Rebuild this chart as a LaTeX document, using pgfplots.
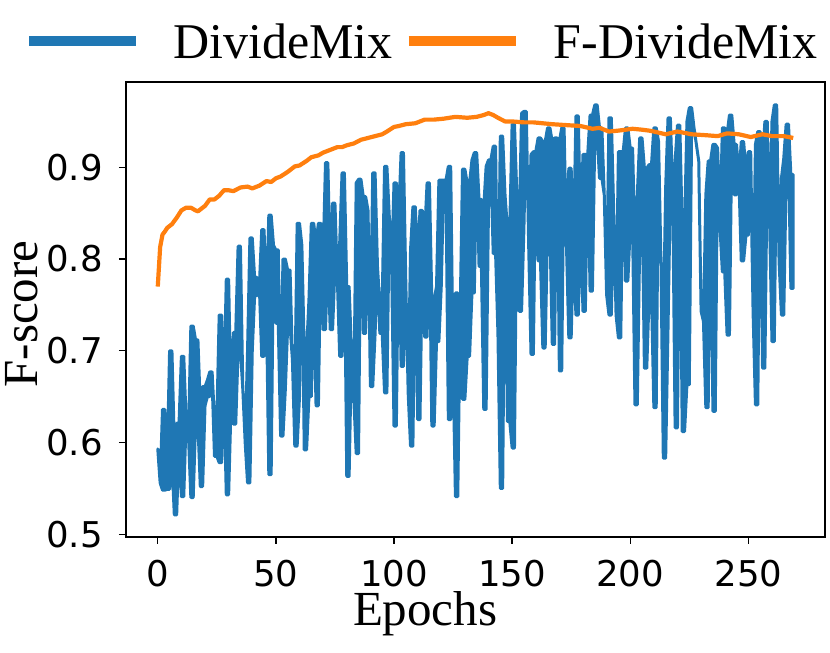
\documentclass[border=0pt]{standalone}
\usepackage{pgfplots}
\usepackage{pgfplotstable}
\pgfplotsset{compat=1.18}
\usepgfplotslibrary{fillbetween}
\usepackage{fontspec}
\setmainfont{Liberation Serif}
\newfontfamily\dejavu{DejaVu Sans}
\definecolor{mblue}{HTML}{1F77B4}
\definecolor{morange}{HTML}{FF7F0E}
% DivideMix: upper edge of the blue band
\pgfplotstableread{
e v
0 0.593
1 0.556
2 0.636
3 0.636
4 0.580
5 0.700
6 0.700
7 0.600
8 0.621
9 0.621
10 0.694
11 0.694
12 0.625
13 0.607
14 0.727
15 0.727
16 0.712
17 0.712
18 0.640
19 0.661
20 0.661
21 0.668
22 0.677
23 0.677
24 0.625
25 0.625
26 0.739
27 0.739
28 0.658
29 0.778
30 0.778
31 0.640
32 0.720
33 0.720
34 0.814
35 0.814
36 0.658
37 0.600
38 0.700
39 0.823
40 0.823
41 0.780
42 0.780
43 0.770
44 0.832
45 0.832
46 0.748
47 0.848
48 0.848
49 0.815
50 0.810
51 0.810
52 0.658
53 0.800
54 0.800
55 0.788
56 0.788
57 0.690
58 0.650
59 0.839
60 0.839
61 0.815
62 0.700
63 0.700
64 0.756
65 0.839
66 0.839
67 0.818
68 0.839
69 0.839
70 0.803
71 0.905
72 0.905
73 0.790
74 0.861
75 0.861
76 0.780
77 0.817
78 0.894
79 0.894
80 0.770
81 0.770
82 0.700
83 0.647
84 0.883
85 0.887
86 0.887
87 0.868
88 0.868
89 0.853
90 0.719
91 0.894
92 0.894
93 0.792
94 0.750
95 0.750
96 0.901
97 0.901
98 0.847
99 0.792
100 0.883
101 0.883
102 0.847
103 0.916
104 0.916
105 0.774
106 0.654
107 0.810
108 0.857
109 0.857
110 0.800
111 0.853
112 0.853
113 0.828
114 0.883
115 0.883
116 0.756
117 0.756
118 0.770
119 0.886
120 0.886
121 0.886
122 0.886
123 0.901
124 0.901
125 0.683
126 0.763
127 0.763
128 0.740
129 0.898
130 0.898
131 0.883
132 0.883
133 0.908
134 0.916
135 0.916
136 0.865
137 0.865
138 0.857
139 0.901
140 0.908
141 0.908
142 0.923
143 0.923
144 0.719
145 0.934
146 0.934
147 0.870
148 0.834
149 0.834
150 0.947
151 0.947
152 0.870
153 0.834
154 0.959
155 0.961
156 0.961
157 0.816
158 0.914
159 0.917
160 0.917
161 0.932
162 0.932
163 0.928
164 0.928
165 0.943
166 0.943
167 0.928
168 0.932
169 0.932
170 0.928
171 0.943
172 0.943
173 0.816
174 0.899
175 0.899
176 0.816
177 0.956
178 0.956
179 0.834
180 0.914
181 0.914
182 0.914
183 0.957
184 0.957
185 0.968
186 0.968
187 0.943
188 0.943
189 0.870
190 0.761
191 0.954
192 0.954
193 0.852
194 0.739
195 0.917
196 0.917
197 0.917
198 0.943
199 0.943
200 0.921
201 0.921
202 0.816
203 0.870
204 0.932
205 0.932
206 0.899
207 0.899
208 0.903
209 0.903
210 0.943
211 0.943
212 0.928
213 0.798
214 0.725
215 0.878
216 0.954
217 0.954
218 0.870
219 0.907
220 0.946
221 0.946
222 0.834
223 0.834
224 0.950
225 0.965
226 0.965
227 0.943
228 0.925
229 0.907
230 0.743
231 0.732
232 0.870
233 0.907
234 0.907
235 0.925
236 0.925
237 0.921
238 0.834
239 0.943
240 0.943
241 0.936
242 0.957
243 0.957
244 0.925
245 0.925
246 0.888
247 0.928
248 0.928
249 0.896
250 0.917
251 0.917
252 0.743
253 0.925
254 0.939
255 0.939
256 0.907
257 0.950
258 0.950
259 0.841
260 0.950
261 0.968
262 0.968
263 0.798
264 0.888
265 0.910
266 0.947
267 0.947
268 0.892
269 0.892
}\dmhi
% DivideMix: lower edge of the blue band
\pgfplotstableread{
e v
0 0.593
1 0.556
2 0.548
3 0.548
4 0.549
5 0.549
6 0.580
7 0.521
8 0.521
9 0.600
10 0.541
11 0.541
12 0.625
13 0.607
14 0.540
15 0.540
16 0.620
17 0.620
18 0.552
19 0.552
20 0.640
21 0.650
22 0.650
23 0.668
24 0.585
25 0.585
26 0.578
27 0.578
28 0.658
29 0.543
30 0.543
31 0.640
32 0.620
33 0.620
34 0.700
35 0.700
36 0.658
37 0.600
38 0.556
39 0.556
40 0.700
41 0.760
42 0.760
43 0.770
44 0.694
45 0.694
46 0.748
47 0.565
48 0.565
49 0.815
50 0.730
51 0.730
52 0.607
53 0.607
54 0.658
55 0.727
56 0.727
57 0.690
58 0.596
59 0.596
60 0.650
61 0.815
62 0.592
63 0.592
64 0.650
65 0.650
66 0.756
67 0.640
68 0.640
69 0.818
70 0.723
71 0.723
72 0.803
73 0.723
74 0.723
75 0.790
76 0.780
77 0.694
78 0.694
79 0.817
80 0.563
81 0.563
82 0.700
83 0.647
84 0.588
85 0.588
86 0.883
87 0.719
88 0.719
89 0.853
90 0.661
91 0.661
92 0.719
93 0.792
94 0.719
95 0.719
96 0.654
97 0.654
98 0.847
99 0.792
100 0.618
101 0.618
102 0.847
103 0.683
104 0.683
105 0.774
106 0.654
107 0.596
108 0.596
109 0.810
110 0.625
111 0.625
112 0.800
113 0.715
114 0.715
115 0.828
116 0.618
117 0.618
118 0.710
119 0.710
120 0.770
121 0.879
122 0.879
123 0.625
124 0.625
125 0.683
126 0.541
127 0.541
128 0.740
129 0.647
130 0.647
131 0.694
132 0.694
133 0.763
134 0.763
135 0.908
136 0.792
137 0.792
138 0.636
139 0.636
140 0.857
141 0.901
142 0.806
143 0.806
144 0.719
145 0.550
146 0.550
147 0.870
148 0.623
149 0.623
150 0.594
151 0.594
152 0.870
153 0.743
154 0.743
155 0.834
156 0.959
157 0.816
158 0.696
159 0.696
160 0.914
161 0.798
162 0.798
163 0.703
164 0.703
165 0.834
166 0.834
167 0.707
168 0.707
169 0.928
170 0.678
171 0.678
172 0.928
173 0.816
174 0.714
175 0.714
176 0.816
177 0.739
178 0.739
179 0.834
180 0.743
181 0.743
182 0.914
183 0.765
184 0.765
185 0.935
186 0.935
187 0.888
188 0.888
189 0.870
190 0.761
191 0.739
192 0.739
193 0.852
194 0.739
195 0.714
196 0.714
197 0.917
198 0.776
199 0.776
200 0.834
201 0.834
202 0.641
203 0.641
204 0.816
205 0.870
206 0.681
207 0.681
208 0.761
209 0.761
210 0.638
211 0.638
212 0.928
213 0.798
214 0.583
215 0.583
216 0.725
217 0.878
218 0.870
219 0.616
220 0.616
221 0.907
222 0.612
223 0.612
224 0.663
225 0.663
226 0.950
227 0.943
228 0.925
229 0.907
230 0.743
231 0.732
232 0.638
233 0.638
234 0.870
235 0.634
236 0.634
237 0.921
238 0.834
239 0.786
240 0.786
241 0.717
242 0.717
243 0.936
244 0.870
245 0.870
246 0.888
247 0.798
248 0.798
249 0.826
250 0.826
251 0.896
252 0.743
253 0.641
254 0.641
255 0.925
256 0.681
257 0.681
258 0.907
259 0.841
260 0.710
261 0.710
262 0.950
263 0.798
264 0.739
265 0.739
266 0.888
267 0.910
268 0.768
269 0.768
}\dmlo
\pgfplotstableread{
e v
0 0.770
1 0.813
2 0.8266
3 0.830
4 0.834
6 0.838
8 0.845
10 0.853
12 0.856
14 0.856
16 0.853
17 0.852
20 0.858
22 0.865
24 0.865
26 0.869
28 0.875
30 0.875
32 0.874
35 0.878
38 0.879
40 0.877
43 0.880
46 0.885
48 0.884
50 0.888
52 0.890
55 0.895
58 0.901
60 0.902
63 0.907
65 0.911
68 0.913
70 0.916
72 0.918
74 0.920
76 0.922
78 0.922
80 0.924
83 0.926
86 0.930
89 0.932
92 0.934
95 0.936
97 0.939
100 0.944
102 0.945
105 0.947
109 0.948
113 0.952
117 0.952
121 0.953
126 0.955
131 0.954
135 0.955
138 0.957
140 0.959
142 0.957
144 0.954
147 0.950
150 0.950
155 0.949
159 0.949
163 0.948
167 0.947
173 0.946
179 0.945
184 0.942
187 0.943
191 0.939
195 0.940
198 0.941
201 0.942
205 0.941
208 0.940
210 0.939
215 0.936
220 0.939
226 0.936
232 0.935
237 0.934
241 0.937
246 0.936
251 0.933
256 0.936
260 0.934
265 0.934
269 0.932
}\fdividemix
\begin{document}
\begin{tikzpicture}
\begin{axis}[
  scale only axis, width=349.5pt, height=227.5pt,
  xmin=-13.45, xmax=282.45, ymin=0.497, ymax=0.993,
  xtick={0,50,100,150,200,250}, ytick={0.5,0.6,0.7,0.8,0.9},
  /pgf/number format/assume math mode=true,
  y tick label style={/pgf/number format/fixed, /pgf/number format/precision=1, /pgf/number format/fixed zerofill},
  tick align=outside, xtick pos=left, ytick pos=left,
  major tick length=3.5pt,
  tick style={line width=0.7pt, black},
  axis line style={line width=0.9pt, black},
  tick label style={font=\dejavu\fontsize{17.75}{20}\selectfont, inner sep=0pt},
  xticklabel style={anchor=north, yshift=-8pt},
  yticklabel style={anchor=east, xshift=-8pt},
  xlabel={Epochs},
  xlabel style={at={(axis description cs:0.428,-0.1956)}, anchor=base, inner sep=0pt, font=\fontsize{24.5}{28}\selectfont},
  ylabel={F-score},
  ylabel style={at={(axis description cs:-0.1273,0.49)}, anchor=base, inner sep=0pt, font=\fontsize{24.5}{28}\selectfont},
  legend columns=2,
  legend style={draw=none, fill=none, at={(axis description cs:-0.1459,1.0448)}, anchor=south west, inner sep=0pt, outer sep=0pt, font=\fontsize{25}{30}\selectfont, nodes={inner sep=0pt}, column sep=0pt, row sep=0pt, /tikz/every even column/.append style={column sep=5.5pt}},
  legend image code/.code={\draw[line width=5pt] (0pt,0.9pt) -- (53.5pt,0.9pt); \path (0pt,0pt) (71.5pt,0pt);},
]
\addplot[name path=lo, draw=none, forget plot] table[x=e, y=v] {\dmlo};
\addplot[name path=hi, draw=none, forget plot] table[x=e, y=v] {\dmhi};
\addplot[fill=mblue, draw=mblue, line width=1.5pt, line join=round, forget plot] fill between[of=hi and lo];
\addlegendimage{mblue, line width=1.3pt}
\addlegendentry{DivideMix}
\addplot[morange, line width=2.1pt, line join=round] table[x=e, y=v] {\fdividemix};
\addlegendentry{F-DivideMix}
\end{axis}
\pgfresetboundingbox
\path[use as bounding box] (-63pt,-58pt) rectangle (352pt,268.5pt);
\end{tikzpicture}
\end{document}
